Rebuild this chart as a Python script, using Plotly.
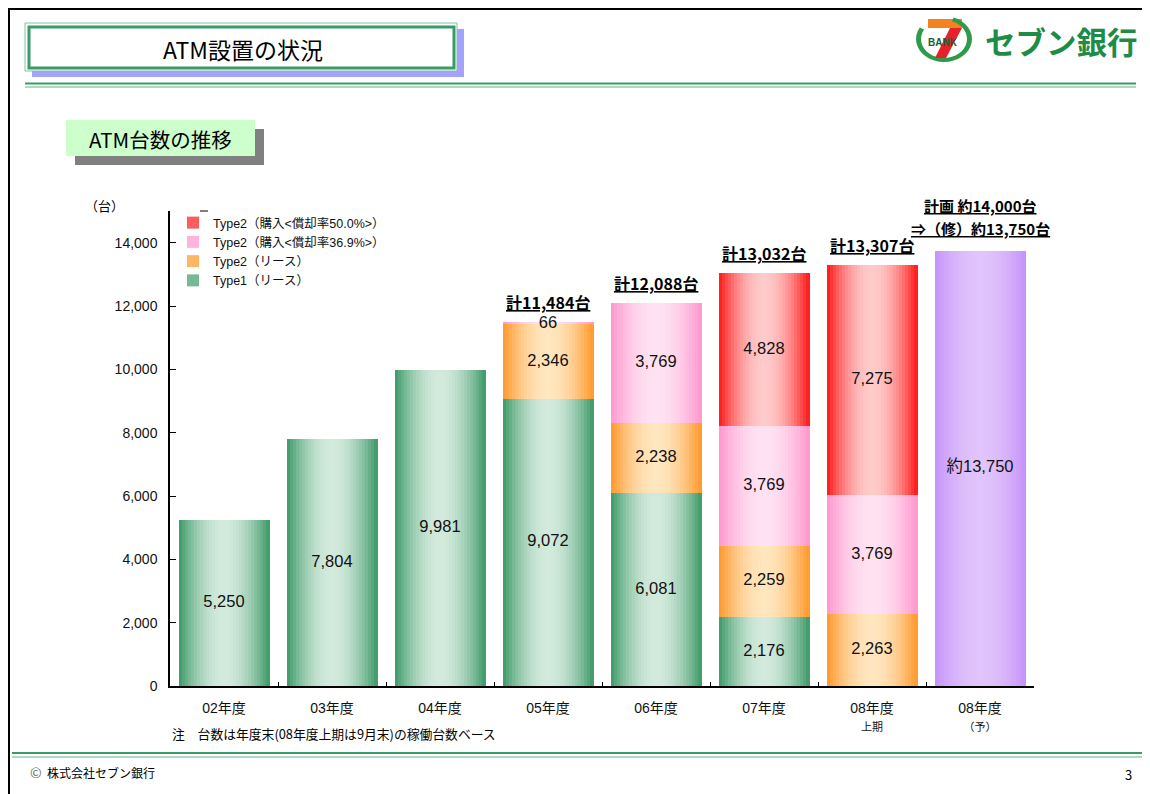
import plotly.graph_objects as go
import math

# ---------------- data ----------------
categories = ["02年度", "03年度", "04年度", "05年度", "06年度", "07年度", "08年度上期", "08年度予"]
tick_labels = ["02年度", "03年度", "04年度", "05年度", "06年度", "07年度",
               "08年度<br><span style='font-size:11px'>上期</span>",
               "08年度<br><span style='font-size:11px'>（予）</span>"]
type1_lease = [5250, 7804, 9981, 9072, 6081, 2176, 0, None]
type2_lease = [None, None, None, 2346, 2238, 2259, 2263, None]
type2_buy369 = [None, None, None, 66, 3769, 3769, 3769, None]
type2_buy500 = [None, None, None, None, None, 4828, 7275, None]
plan_value = [None, None, None, None, None, None, None, 13750]
plan_label = "約13,750"
plan_total_lines = ["計画 約14,000台", "⇒（修）約13,750台"]
y_ticks = [0, 2000, 4000, 6000, 8000, 10000, 12000, 14000]

series_names = ["Type1（リース）", "Type2（リース）",
                "Type2（購入&lt;償却率36.9%&gt;）", "Type2（購入&lt;償却率50.0%&gt;）", ""]
series_values = [type1_lease, type2_lease, type2_buy369, type2_buy500, plan_value]
series_dark = [(58, 152, 102), (255, 150, 40), (255, 150, 205), (255, 20, 20), (197, 145, 250)]
series_light = [(210, 234, 220), (255, 230, 190), (255, 226, 242), (255, 202, 202), (224, 196, 251)]
legend_ranks = [5, 4, 3, 2, 6]

FONT = "Liberation Sans, Arial, Noto Sans CJK JP"
JFONT = "Noto Sans CJK JP, Liberation Sans"

# ---------------- placement (reference pixel coords; page has 8px body margin) ----------------
OFF = 8
L, R, T, B = 170, 1034, 211, 686
W, H = 1150 - OFF, 794 - OFF
def px(x):
    return (x - L) / (R - L)
def py(y):
    return (B - y) / (B - T)

def mix(c1, c2, f):
    return "rgb(%d,%d,%d)" % tuple(round(a + (b - a) * f) for a, b in zip(c1, c2))

fig = go.Figure()

BAR_W = 0.84
N = 30
bases_running = [0] * len(categories)
label_x, label_y, label_t = [], [], []
for s, vals in enumerate(series_values):
    base = list(bases_running)
    for i in range(N):
        u = (i + 0.5) / N
        f = math.sin(math.pi * u) ** 0.9
        col = mix(series_dark[s], series_light[s], f)
        show = (i == 3) and s != 4
        fig.add_trace(go.Bar(
            x=categories, y=vals, base=base,
            width=BAR_W / N * 1.12, offset=-BAR_W / 2 + i * BAR_W / N,
            marker=dict(color=col, line=dict(width=0)),
            name=series_names[s], legendgroup="g%d" % s, legendrank=legend_ranks[s],
            showlegend=show, hoverinfo="skip",
        ))
    for k, v in enumerate(vals):
        if v:
            label_x.append(categories[k])
            label_y.append(base[k] + v / 2)
            label_t.append(plan_label if s == 4 else f"{v:,}")
            bases_running[k] = base[k] + v

fig.add_trace(go.Scatter(x=label_x, y=label_y, text=label_t, mode="text",
                         textfont=dict(family=FONT, size=16.5, color="#111"),
                         showlegend=False, hoverinfo="skip", cliponaxis=False))

annotations = []
tot_font = dict(family=JFONT, size=16, color="black", lineposition="under")
plan_font = dict(family=JFONT, size=15, color="black", lineposition="under")
for k in range(3, 7):
    tot = bases_running[k]
    annotations.append(dict(x=categories[k], y=tot, xref="x", yref="y", text=f"<b>計{tot:,}台</b>",
                            showarrow=False, yanchor="middle", yshift=20, font=tot_font))
annotations.append(dict(x=categories[7], y=bases_running[7], xref="x", yref="y",
                        text=f"<b>{plan_total_lines[1]}</b>", showarrow=False, yanchor="middle", yshift=22,
                        font=plan_font))
annotations.append(dict(x=categories[7], y=bases_running[7], xref="x", yref="y",
                        text=f"<b>{plan_total_lines[0]}</b>", showarrow=False, yanchor="middle", yshift=45,
                        font=plan_font))

def ann(x, y, text, size, color="black", family=JFONT, xanchor="center", **kw):
    annotations.append(dict(x=px(x), y=py(y), xref="paper", yref="paper", text=text, showarrow=False,
                            xanchor=xanchor, yanchor="middle",
                            font=dict(family=family, size=size, color=color), **kw))

ann(104, 205, "（台）", 13)
ann(170, 733, "注　台数は年度末(08年度上期は9月末)の稼働台数ベース", 12.8, xanchor="left")
ann(243, 49, "ATM設置の状況", 23)
ann(160, 139, "ATM台数の推移", 20.5)
ann(28, 772, "©", 14, color="#666", xanchor="left")
ann(45, 772, "株式会社セブン銀行", 12, xanchor="left")
ann(1134, 774, "3", 13, xanchor="right")
ann(1061, 41, "<b>セブン銀行</b>", 30.5, color="#1e8c46")
ann(943, 43, "<b>BANK</b>", 10, color="#1a5e36", family=FONT)

shapes = []
def rect(x0, y0, x1, y1, fill=None, line=None, lw=0):
    shapes.append(dict(type="rect", xref="paper", yref="paper", x0=px(x0), x1=px(x1), y0=py(y1), y1=py(y0),
                       fillcolor=fill if fill else "rgba(0,0,0,0)",
                       line=dict(color=line if line else "rgba(0,0,0,0)", width=lw), layer="below"))
def hline(x0, x1, y, color, lw):
    shapes.append(dict(type="line", xref="paper", yref="paper", x0=px(x0), x1=px(x1), y0=py(y), y1=py(y),
                       line=dict(color=color, width=lw)))
def vline(x, y0, y1, color, lw):
    shapes.append(dict(type="line", xref="paper", yref="paper", x0=px(x), x1=px(x), y0=py(y0), y1=py(y1),
                       line=dict(color=color, width=lw)))

# slide frame
hline(8, 1150, 9, "black", 2)
vline(9, 8, 794, "black", 2)
# title box
rect(32, 29, 464, 77, fill="#a3a3ff")
rect(25, 23, 457, 71, fill="white", line="#7cc49a", lw=1)
rect(29, 27, 454, 68, line="#3a9a68", lw=3)
hline(25, 1136, 83.5, "#3a9a68", 2)
hline(25, 1136, 87, "#8fd0a8", 1.5)
# subtitle box
rect(75, 129, 264, 165, fill="#808080")
rect(66, 120, 255, 156, fill="#ccffcc")
# footer lines
hline(12, 1150, 753, "#3a9a68", 2)
hline(12, 1150, 757, "#8fd0a8", 1.5)
# legend top dash
hline(200, 208, 211, "black", 1)
# logo mark (swoosh + 7)
cx, cy, rx, ry = 944, 39, 28, 23
pts = []
for j in range(0, 29):
    a = math.radians(150 + j * 10)
    pts.append((cx + rx * math.cos(a), cy - ry * math.sin(a)))
for j in range(28, -1, -1):
    a = math.radians(150 + j * 10)
    pts.append((cx + (rx - 5) * math.cos(a), cy - (ry - 4) * math.sin(a)))
path = "M " + " L ".join("%f %f" % (px(a), py(b)) for a, b in pts) + " Z"
shapes.append(dict(type="path", xref="paper", yref="paper", path=path,
                   fillcolor="#2e9a4a", line=dict(width=0)))
rect(928, 19, 962, 28, fill="#f58220")
shapes.append(dict(type="path", xref="paper", yref="paper",
                   path="M %f %f L %f %f L %f %f L %f %f Z" % (px(950), py(28), px(962), py(28),
                                                               px(946), py(58), px(935), py(58)),
                   fillcolor="#e8202a", line=dict(width=0)))

fig.update_layout(
    width=W, height=H, autosize=False,
    margin=dict(l=L - OFF, r=W - (R - OFF), t=T - OFF, b=H - (B - OFF)),
    paper_bgcolor="white", plot_bgcolor="white",
    barmode="overlay", bargap=0,
    font=dict(family=FONT, size=14, color="#111"),
    showlegend=True,
    legend=dict(x=px(173), y=py(208), xanchor="left", yanchor="top", bgcolor="rgba(0,0,0,0)",
                font=dict(family=FONT, size=12.5, color="#111"), tracegroupgap=0, itemwidth=30),
    xaxis=dict(type="category", categoryorder="array", categoryarray=categories,
               range=[-0.5, 7.5], tickvals=categories, ticktext=tick_labels,
               showline=True, linecolor="black", linewidth=1.5, ticks="inside", ticklen=4,
               tickson="boundaries", tickcolor="black", showgrid=False, zeroline=False,
               ticklabelstandoff=8, tickfont=dict(family=FONT, size=14, color="#111")),
    yaxis=dict(range=[0, 15000], tickvals=y_ticks, tickformat=",", showline=True, linecolor="black",
               linewidth=1.5, ticks="inside", ticklen=6, tickcolor="black", showgrid=False, zeroline=False,
               ticklabelstandoff=8, tickfont=dict(family=FONT, size=14, color="#111")),
    annotations=annotations, shapes=shapes,
)

fig.write_html("out.html")
